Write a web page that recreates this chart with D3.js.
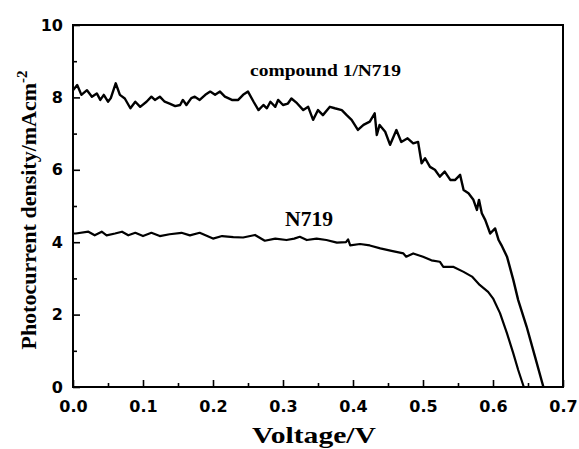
<!DOCTYPE html>
<html>
<head>
<meta charset="utf-8">
<script src="https://cdn.jsdelivr.net/npm/d3@7"></script>
<style>
  body { margin: 0; background: #fff; }
  svg { display: block; }
</style>
</head>
<body>
<svg width="579" height="449"></svg>
<script>
// compound 1/N719 J-V curve (V, mA cm-2)
let compoundV = [0.0, 0.006, 0.012, 0.02, 0.027, 0.034, 0.039, 0.044, 0.05, 0.054, 0.061, 0.067, 0.074, 0.082, 0.089, 0.096,
  0.105, 0.112, 0.117, 0.124, 0.131, 0.138, 0.146, 0.153, 0.157, 0.162, 0.169, 0.174, 0.181, 0.189, 0.196, 0.203,
  0.21, 0.217, 0.227, 0.236, 0.243, 0.25, 0.258, 0.265, 0.272, 0.277, 0.282, 0.289, 0.293, 0.3, 0.307, 0.312,
  0.32, 0.329, 0.336, 0.343, 0.35, 0.357, 0.367, 0.374, 0.384, 0.391, 0.398, 0.407, 0.415, 0.424, 0.431, 0.434,
  0.438, 0.446, 0.453, 0.462, 0.469, 0.478, 0.486, 0.493, 0.498, 0.503, 0.51, 0.517, 0.524, 0.531, 0.539, 0.546,
  0.553, 0.558, 0.565, 0.572, 0.577, 0.58, 0.584, 0.589, 0.596, 0.603, 0.608, 0.612, 0.62, 0.629, 0.636, 0.648,
  0.66, 0.672]
let compoundJ = [8.2, 8.34, 8.07, 8.2, 8.02, 8.11, 7.93, 8.07, 7.88, 7.98, 8.39, 8.07, 7.97, 7.7, 7.88, 7.74,
  7.88, 8.02, 7.93, 8.02, 7.88, 7.83, 7.76, 7.79, 7.93, 7.79, 7.98, 8.02, 7.93, 8.07, 8.16, 8.07,
  8.16, 8.02, 7.93, 7.93, 8.07, 8.16, 7.88, 7.65, 7.79, 7.7, 7.88, 7.74, 7.93, 7.79, 7.83, 7.97,
  7.84, 7.65, 7.74, 7.38, 7.65, 7.51, 7.74, 7.7, 7.65, 7.51, 7.38, 7.1, 7.24, 7.33, 7.56, 6.96,
  7.24, 7.05, 6.69, 7.1, 6.77, 6.87, 6.73, 6.77, 6.18, 6.32, 6.08, 6.0, 5.81, 5.95, 5.72, 5.72,
  5.86, 5.44, 5.35, 5.17, 4.89, 5.17, 4.8, 4.61, 4.24, 4.38, 4.06, 3.92, 3.6, 2.96, 2.4, 1.67,
  0.84, 0.0]

// N719 J-V curve
let n719V = [0.0, 0.004, 0.022, 0.031, 0.041, 0.048, 0.06, 0.07, 0.079, 0.089, 0.1, 0.112, 0.124, 0.138, 0.155, 0.167,
  0.181, 0.2, 0.213, 0.229, 0.243, 0.26, 0.274, 0.289, 0.305, 0.316, 0.324, 0.334, 0.348, 0.362, 0.377, 0.39,
  0.393, 0.396, 0.41, 0.424, 0.439, 0.455, 0.472, 0.476, 0.486, 0.5, 0.512, 0.524, 0.529, 0.543, 0.558, 0.57,
  0.581, 0.593, 0.6, 0.61, 0.62, 0.629, 0.636, 0.644]
let n719J = [4.24, 4.24, 4.29, 4.19, 4.29, 4.19, 4.24, 4.29, 4.19, 4.26, 4.17, 4.26, 4.17, 4.22, 4.26, 4.19,
  4.26, 4.1, 4.17, 4.14, 4.13, 4.2, 4.04, 4.1, 4.06, 4.1, 4.15, 4.06, 4.1, 4.06, 3.99, 4.0,
  4.08, 3.91, 3.95, 3.91, 3.83, 3.76, 3.69, 3.6, 3.69, 3.6, 3.5, 3.46, 3.32, 3.32, 3.18, 3.05,
  2.82, 2.63, 2.45, 2.04, 1.48, 0.93, 0.47, 0.0]

let xTicks = [0.0, 0.1, 0.2, 0.3, 0.4, 0.5, 0.6, 0.7]
let yTicks = [0, 2, 4, 6, 8, 10]

let margin = { top: 25, right: 16, bottom: 62, left: 73 },
    width = 579 - margin.left - margin.right,
    height = 449 - margin.top - margin.bottom

let x = d3.scaleLinear().domain([0, 0.7]).range([0, width])
let y = d3.scaleLinear().domain([0, 10]).range([height, 0])

let svg = d3.select("svg")
let g = svg.append("g")
    .attr("transform", "translate(" + margin.left + "," + margin.top + ")")

// inward ticks, major + minor
let xMinor = d3.range(0, 0.7001, 0.05)
let yMinor = d3.range(1, 10, 2)

g.append("g")
    .attr("transform", "translate(0," + height + ")")
    .call(d3.axisBottom(x).tickValues(xMinor.filter((d, i) => i % 2 == 1)).tickSize(-4).tickFormat(""))
    .call(a => a.select(".domain").remove())
    .selectAll("line").attr("stroke", "#000").attr("stroke-width", 1.6)

g.append("g")
    .attr("transform", "translate(0," + height + ")")
    .call(d3.axisBottom(x).tickValues(xTicks).tickSize(-7).tickPadding(14).tickFormat(d3.format(".1f")))
    .call(a => a.select(".domain").remove())
    .call(a => a.selectAll("line").attr("stroke", "#000").attr("stroke-width", 1.6))
    .selectAll("text")
    .attr("fill", "#000")
    .style("font-family", "'DejaVu Sans', sans-serif")
    .style("font-weight", "bold")
    .style("font-size", "16px")

g.append("g")
    .call(d3.axisLeft(y).tickValues(yMinor).tickSize(-4).tickFormat(""))
    .call(a => a.select(".domain").remove())
    .selectAll("line").attr("stroke", "#000").attr("stroke-width", 1.6)

g.append("g")
    .call(d3.axisLeft(y).tickValues(yTicks).tickSize(-7).tickPadding(10).tickFormat(d3.format("d")))
    .call(a => a.select(".domain").remove())
    .call(a => a.selectAll("line").attr("stroke", "#000").attr("stroke-width", 1.6))
    .selectAll("text")
    .attr("fill", "#000")
    .style("font-family", "'DejaVu Sans', sans-serif")
    .style("font-weight", "bold")
    .style("font-size", "16px")

// frame
g.append("rect")
    .attr("width", width)
    .attr("height", height)
    .attr("fill", "none")
    .attr("stroke", "#000")
    .attr("stroke-width", 2)

let line = d3.line()
    .x(d => x(d[0]))
    .y(d => y(d[1]))

g.append("path")
    .datum(compoundV.map((v, i) => [v, compoundJ[i]]))
    .attr("d", line)
    .attr("fill", "none")
    .attr("stroke", "#000")
    .attr("stroke-width", 2.4)
    .attr("stroke-linejoin", "round")

g.append("path")
    .datum(n719V.map((v, i) => [v, n719J[i]]))
    .attr("d", line)
    .attr("fill", "none")
    .attr("stroke", "#000")
    .attr("stroke-width", 2.2)
    .attr("stroke-linejoin", "round")

let serif = "'Liberation Serif', 'Times New Roman', serif"

// curve labels
g.append("text")
    .attr("x", x(0.253))
    .attr("y", y(8.6))
    .attr("textLength", 151)
    .attr("lengthAdjust", "spacingAndGlyphs")
    .style("font-family", serif)
    .style("font-weight", "bold")
    .style("font-size", "17px")
    .text("compound 1/N719")

g.append("text")
    .attr("x", x(0.303))
    .attr("y", y(4.45))
    .attr("textLength", 48)
    .attr("lengthAdjust", "spacingAndGlyphs")
    .style("font-family", serif)
    .style("font-weight", "bold")
    .style("font-size", "20px")
    .text("N719")

// axis titles
svg.append("text")
    .attr("x", margin.left + width / 2 - 4)
    .attr("y", 443)
    .attr("text-anchor", "middle")
    .attr("textLength", 124)
    .attr("lengthAdjust", "spacingAndGlyphs")
    .style("font-family", serif)
    .style("font-weight", "bold")
    .style("font-size", "23px")
    .text("Voltage/V")

let yt = svg.append("text")
    .attr("transform", "translate(36," + (margin.top + height / 2 + 4) + ") rotate(-90)")
    .attr("text-anchor", "middle")
    .style("font-family", serif)
    .style("font-weight", "bold")
    .style("font-size", "22px")
yt.append("tspan").text("Photocurrent density/mAcm")
yt.append("tspan").attr("dy", -9).style("font-size", "15px").text("-2")
</script>
</body>
</html>
